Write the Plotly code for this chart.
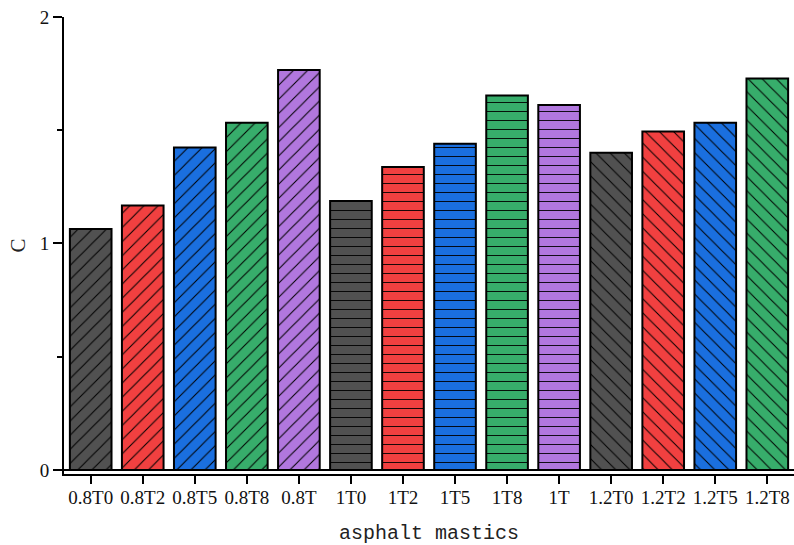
import plotly.graph_objects as go

categories = ["0.8T0", "0.8T2", "0.8T5", "0.8T8", "0.8T",
              "1T0", "1T2", "1T5", "1T8", "1T",
              "1.2T0", "1.2T2", "1.2T5", "1.2T8"]
values = [1.064, 1.168, 1.424, 1.533, 1.766,
          1.188, 1.338, 1.440, 1.653, 1.611,
          1.401, 1.494, 1.533, 1.728]
colors = ["#515151", "#F14040", "#1A6FDF", "#37AD6B", "#B177DE"] * 2 + ["#515151", "#F14040", "#1A6FDF", "#37AD6B"]
patterns = ["/"] * 5 + ["-"] * 5 + ["\\"] * 4
pattern_sizes = [10] * 5 + [9] * 5 + [10] * 4

fig = go.Figure()
# solid colored fill
fig.add_trace(go.Bar(
    x=categories, y=values, width=0.8,
    marker=dict(color=colors, line=dict(width=0)),
    hoverinfo="skip",
))
# black hatch on top with outline
fig.add_trace(go.Bar(
    x=categories, y=values, width=0.8,
    marker=dict(
        color="black",
        line=dict(color="black", width=2),
        pattern=dict(shape=patterns, bgcolor="rgba(0,0,0,0)", size=pattern_sizes,
                     solidity=0.1, fillmode="replace"),
    ),
))

serif = "Liberation Serif"
fig.update_layout(
    width=794, height=545,
    margin=dict(l=64, r=0, t=17, b=71),
    plot_bgcolor="white", paper_bgcolor="white",
    showlegend=False, barmode="overlay",
    font=dict(family=serif, size=19, color="#111"),
)
fig.update_xaxes(
    automargin=False,
    range=[-0.513, 13.513], showline=True, linecolor="black", linewidth=2,
    ticks="outside", ticklen=8, tickwidth=2, tickcolor="black",
    ticklabelstandoff=-3,
    tickfont=dict(family=serif, size=19, color="#111"),
    showgrid=False, zeroline=False,
    title=dict(text="asphalt mastics", font=dict(family="Liberation Mono", size=20, color="#222"), standoff=21),
)
fig.update_yaxes(
    automargin=False, ticklabeloverflow="allow",
    range=[-0.018, 2], showline=True, linecolor="black", linewidth=2,
    ticks="outside", ticklen=9, tickwidth=2, tickcolor="black",
    tickvals=[0, 1, 2], ticktext=["0", "1", "2"],
    tickfont=dict(family=serif, size=19, color="#111"),
    minor=dict(tickvals=[0.5, 1.5], ticks="outside", ticklen=5, tickwidth=2, tickcolor="black"),
    showgrid=False, zeroline=True, zerolinecolor="black", zerolinewidth=2,
    title=dict(text="C", font=dict(family="Liberation Serif", size=21, color="#222"), standoff=8),
)

fig.write_html("out.html", config={"displayModeBar": False},
               post_script="document.body.style.margin='0';document.body.style.overflow='hidden';")
